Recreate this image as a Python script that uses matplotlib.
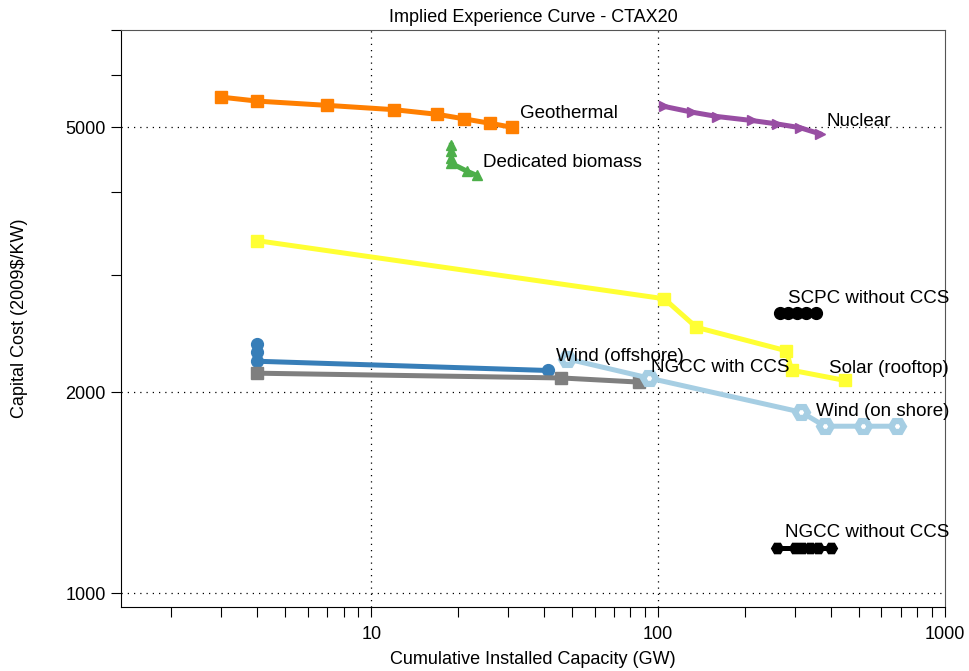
import matplotlib
matplotlib.use("Agg")
import matplotlib.pyplot as plt
from matplotlib.ticker import FixedLocator, NullFormatter

plt.rcParams['font.family'] = ['Liberation Sans', 'DejaVu Sans']

# capacity (GW) / capital cost (2009$/KW) per technology
geo_x = [3, 4, 7, 12, 17, 21, 26, 31]
geo_y = [5550, 5475, 5395, 5315, 5230, 5150, 5070, 5000]

nuc_x = [105, 131, 161, 212, 259, 312, 366]
nuc_y = [5375, 5270, 5190, 5120, 5060, 4995, 4890]

bio_x = [19, 19, 19, 19, 21.6, 23.3]
bio_y = [4700, 4600, 4505, 4415, 4295, 4235]

solar_x = [4, 105, 136, 280, 292, 448]
solar_y = [3380, 2765, 2505, 2310, 2160, 2085]

scpc_x = [265, 284, 304, 328, 355]
scpc_y = [2630, 2630, 2630, 2630, 2630]

woff_x = [4, 4, 4, 41.3]
woff_y = [2365, 2300, 2228, 2158]

ngccs_x = [4, 46, 86]
ngccs_y = [2138, 2103, 2073]

won_x = [48, 93, 316, 381, 519, 678]
won_y = [2247, 2102, 1868, 1780, 1780, 1780]

ngcc_x = [259, 300, 318, 338, 361, 400]
ngcc_y = [1170, 1170, 1170, 1170, 1170, 1170]

# label text and anchor (left edge, vertical centre)
labels = ["Geothermal", "Nuclear", "Dedicated biomass", "SCPC without CCS",
          "Wind (offshore)", "NGCC with CCS", "Solar (rooftop)",
          "Wind (on shore)", "NGCC without CCS"]
label_x = [33.1, 387, 24.6, 283, 43.9, 94.2, 393, 355, 276]
label_y = [5250, 5105, 4430, 2768, 2266, 2181, 2174, 1873, 1233]

fig = plt.figure(figsize=(9.69, 6.71), dpi=100)
ax = fig.add_axes([0.1249, 0.0954, 0.8503, 0.8599])

lw = 3.6
ms = 8.5
ax.plot(geo_x, geo_y, color='#FF7F00', lw=lw, marker='s', ms=ms)
ax.plot(nuc_x, nuc_y, color='#984EA3', lw=lw, marker='>', ms=ms - 1.5)
ax.plot(bio_x, bio_y, color='#4DAF4A', lw=lw, marker='^', ms=ms - 1.5)
ax.plot(solar_x, solar_y, color='#FFFF33', lw=lw, marker='s', ms=ms)
ax.plot(scpc_x, scpc_y, color='black', lw=lw, marker='o', ms=ms)
ax.plot(woff_x, woff_y, color='#377EB8', lw=lw, marker='o', ms=ms)
ax.plot(ngccs_x, ngccs_y, color='#7F7F7F', lw=lw, marker='s', ms=ms)
ax.plot(won_x, won_y, color='#A6CEE3', lw=lw, marker='H', ms=ms + 0.5,
        mfc='white', mec='#A6CEE3', mew=4.5)
ax.plot(ngcc_x, ngcc_y, color='black', lw=lw, marker='H', ms=ms)

for t, x, y in zip(labels, label_x, label_y):
    ax.text(x, y, t, fontsize=13.5, ha='left', va='center')

ax.set_xscale('log')
ax.set_yscale('log')
ax.set_xlim(1.34, 1000)
ax.set_ylim(953, 7000)

ax.xaxis.set_major_locator(FixedLocator([10, 100, 1000]))
ax.xaxis.set_minor_locator(FixedLocator([2, 3, 4, 5, 6, 7, 8, 9,
                                         20, 30, 40, 50, 60, 70, 80, 90,
                                         200, 300, 400, 500, 600, 700, 800, 900]))
ax.set_xticklabels(['10', '100', '1000'])
ax.xaxis.set_minor_formatter(NullFormatter())

ax.yaxis.set_major_locator(FixedLocator([1000, 2000, 5000]))
ax.yaxis.set_minor_locator(FixedLocator([3000, 4000, 6000, 7000]))
ax.set_yticklabels(['1000', '2000', '5000'])
ax.yaxis.set_minor_formatter(NullFormatter())

ax.tick_params(which='both', direction='out', length=7, width=0.8, labelsize=13)
ax.tick_params(axis='x', which='both', pad=7)
ax.tick_params(axis='y', which='both', pad=4)
ax.tick_params(which='both', top=False, right=False)
ax.spines['top'].set_color('#555555')
ax.spines['right'].set_color('#555555')

for v in [10, 100]:
    ax.axvline(v, color='black', ls=(0, (1, 4)), lw=0.9, zorder=0)
for v in [1000, 2000, 5000]:
    ax.axhline(v, color='black', ls=(0, (1, 4)), lw=0.9, zorder=0)

ax.set_title('Implied Experience Curve - CTAX20', fontsize=13, pad=6)
ax.set_xlabel('Cumulative Installed Capacity (GW)', fontsize=13)
ax.set_ylabel('Capital Cost (2009$/KW)', fontsize=13)
ax.xaxis.set_label_coords(0.5, -0.077)
ax.yaxis.set_label_coords(-0.113, 0.5)

fig.savefig('out.png', dpi=100)
